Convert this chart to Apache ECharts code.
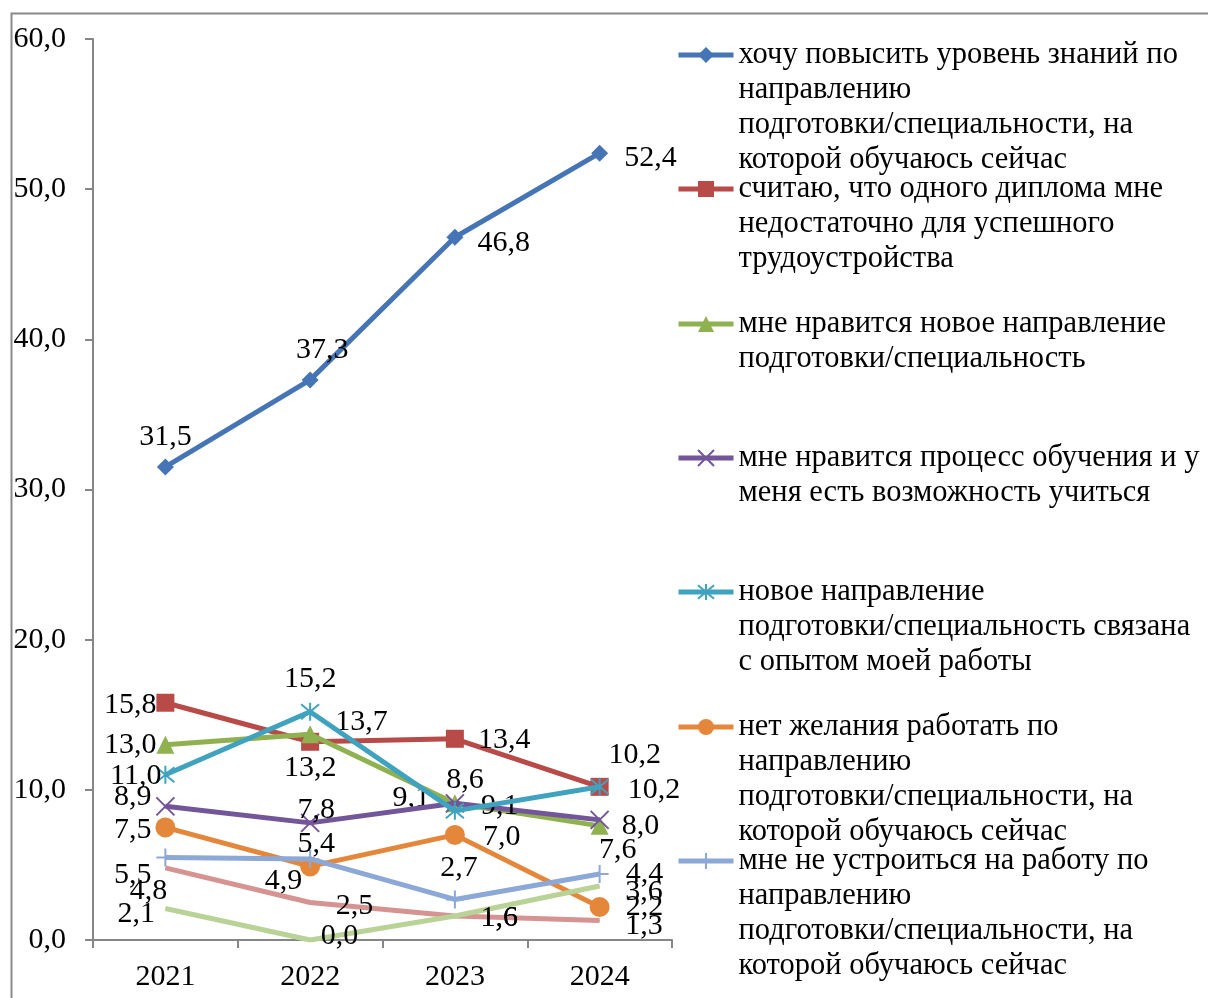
<!DOCTYPE html>
<html>
<head>
<meta charset="utf-8">
<script src="https://cdn.jsdelivr.net/npm/echarts@6/dist/echarts.min.js"></script>
<style>
html,body{margin:0;padding:0;background:#fff;}
#chart{width:1208px;height:998px;}
</style>
</head>
<body>
<div id="chart"></div>
<script>
var categories = ['2021', '2022', '2023', '2024'];
var seriesNames = [
  'хочу повысить уровень знаний по направлению подготовки/специальности, на которой обучаюсь сейчас',
  'считаю, что одного диплома мне недостаточно для успешного трудоустройства',
  'мне нравится новое направление подготовки/специальность',
  'мне нравится процесс обучения и у меня есть возможность учиться',
  'новое направление подготовки/специальность связана с опытом моей работы',
  'нет желания работать по направлению подготовки/специальности, на которой обучаюсь сейчас',
  'мне не устроиться на работу по направлению подготовки/специальности, на которой обучаюсь сейчас',
  'Ряд 8',
  'Ряд 9'
];
var legendText = [
  'хочу повысить уровень знаний по\nнаправлению\nподготовки/специальности, на\nкоторой обучаюсь сейчас',
  'считаю, что одного диплома мне\nнедостаточно для успешного\nтрудоустройства',
  'мне нравится новое направление\nподготовки/специальность',
  'мне нравится процесс обучения и у\nменя есть возможность учиться',
  'новое направление\nподготовки/специальность связана\nс опытом моей работы',
  'нет желания работать по\nнаправлению\nподготовки/специальности, на\nкоторой обучаюсь сейчас',
  'мне не устроиться на работу по\nнаправлению\nподготовки/специальности, на\nкоторой обучаюсь сейчас'
];
var valuesKnowledge = [31.5, 37.3, 46.8, 52.4];
var valuesDiploma = [15.8, 13.2, 13.4, 10.2];
var valuesNewDirection = [13.0, 13.7, 9.1, 7.6];
var valuesProcess = [8.9, 7.8, 9.1, 8.0];
var valuesExperience = [11.0, 15.2, 8.6, 10.2];
var valuesNoWish = [7.5, 4.9, 7.0, 2.2];
var valuesNoJob = [5.5, 5.4, 2.7, 4.4];
var valuesSeries8 = [4.8, 2.5, 1.6, 1.3];
var valuesSeries9 = [2.1, 0.0, 1.6, 3.6];
var yTicks = {min: 0, max: 60, interval: 10};

// ---- styling ----
var colors = ['#4575B4', '#B84A47', '#8FB150', '#73559A', '#3FA3BF', '#E5873B', '#8CA8D6', '#D59392', '#B9D296'];
var symbols = [
  'diamond', 'rect', 'triangle',
  'path://M0,0L10,10M10,0L0,10',
  'path://M0,0L10,10M10,0L0,10M5,-1L5,11',
  'circle',
  'path://M5,0L5,10M0,5L10,5',
  'circle', 'circle'
];
var symbolSizes = [17, 18, 18, 18, 18, 20, 18, 1, 1];
// label placement per point: [position, distance, offsetX, offsetY]
var labelPlace = [
  [['top',6,0,0], ['top',6,12,0], ['right',14,0,6], ['right',16,0,5]],
  [['left',0,0,2], ['bottom',2,0,0], ['right',14,0,1], ['top',8,35,0]],
  [['left',0,0,0], ['right',16,0,-12], ['left',16,0,-5], ['bottom',0,18,0]],
  [['left',4,0,-9], ['top',-12,6,0], ['right',16,0,3], ['right',12,0,6]],
  [['left',-6,0,1], ['top',8,0,0], ['top',6,10,0], ['right',18,0,3]],
  [['left',4,0,3], ['left',-2,0,15], ['right',18,0,2], ['right',16,0,0]],
  [['left',4,0,18], ['top',-10,6,0], ['top',6,4,0], ['right',16,0,0]],
  [['bottom',8,-17,0], ['right',25,0,4], ['right',25,0,2], ['right',25,0,6]],
  [['left',10,0,6], ['right',10,0,-4], ['right',25,0,2], ['right',25,0,6]]
];
var legendIconY = [55, 189, 324, 458, 592, 727, 861];
var FONT = 'Liberation Serif';
var FS = 30;
var LFS = 30.5;
var LH = 35;

function fmt(v) { return Number(v).toFixed(1).replace('.', ','); }

var allValues = [valuesKnowledge, valuesDiploma, valuesNewDirection, valuesProcess, valuesExperience, valuesNoWish, valuesNoJob, valuesSeries8, valuesSeries9];

var series = allValues.map(function (vals, si) {
  return {
    name: seriesNames[si],
    type: 'line',
    symbol: symbols[si],
    symbolSize: symbolSizes[si],
    showSymbol: true,
    z: 2 + si,
    lineStyle: {color: colors[si], width: 5},
    itemStyle: {color: colors[si], borderColor: colors[si], borderWidth: symbols[si].indexOf('path') === 0 ? 2 : 0},
    emphasis: {disabled: true},
    animation: false,
    label: {show: true, formatter: function (p) { return fmt(p.value); }, color: '#000', fontFamily: FONT, fontSize: FS},
    data: vals.map(function (v, i) {
      var lp = labelPlace[si][i];
      return {value: v, label: {position: lp[0], distance: lp[1], offset: [lp[2], lp[3]]}};
    })
  };
});

var legends = legendText.map(function (txt, k) {
  var n = txt.split('\n').length;
  var pad = new Array(n).join('\n');
  return {
    data: [seriesNames[k]],
    orient: 'vertical',
    left: 676,
    top: legendIconY[k] - (2 * n - 1) * LH / 2,
    padding: 0,
    itemWidth: 55,
    itemHeight: 20,
    selectedMode: false,
    lineStyle: {width: 5},
    formatter: function () { return pad + txt; },
    textStyle: {color: '#000', fontFamily: FONT, fontSize: LFS, lineHeight: LH}
  };
});

var chart = echarts.init(document.getElementById('chart'), null, {renderer: 'canvas'});
chart.setOption({
  animation: false,
  backgroundColor: '#fff',
  textStyle: {fontFamily: FONT},
  graphic: [{
    type: 'rect', left: 9, top: 11, silent: true,
    shape: {width: 1400, height: 1200},
    style: {fill: 'none', stroke: '#898989', lineWidth: 2}
  }],
  grid: {left: 93, right: 536, top: 39, bottom: 58, containLabel: false},
  xAxis: {
    type: 'category',
    data: categories,
    boundaryGap: true,
    axisLine: {lineStyle: {color: '#868686', width: 2}},
    axisTick: {show: true, length: 8, alignWithLabel: false, lineStyle: {color: '#868686', width: 2}},
    axisLabel: {color: '#000', fontFamily: FONT, fontSize: FS, margin: 22}
  },
  yAxis: {
    type: 'value',
    min: yTicks.min, max: yTicks.max, interval: yTicks.interval,
    axisLine: {show: true, lineStyle: {color: '#868686', width: 2}},
    axisTick: {show: true, length: 8, lineStyle: {color: '#868686', width: 2}},
    splitLine: {show: false},
    axisLabel: {color: '#000', fontFamily: FONT, fontSize: FS, margin: 27, formatter: fmt}
  },
  legend: legends,
  series: series
});
</script>
</body>
</html>
